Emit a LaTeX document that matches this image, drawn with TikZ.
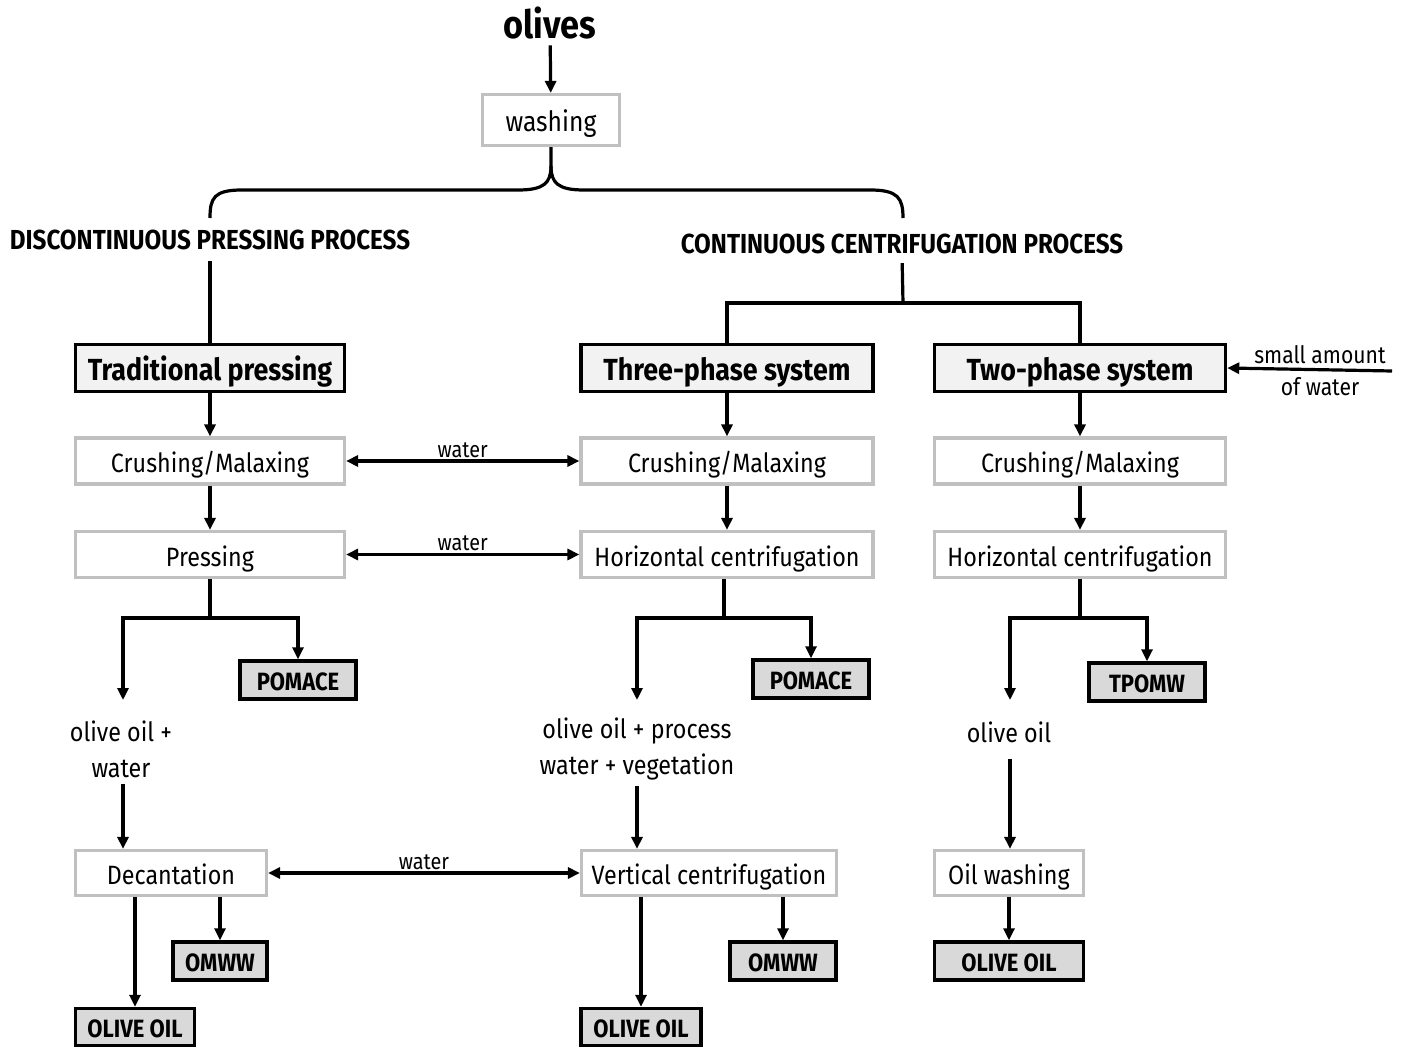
\documentclass[tikz,border=0pt]{standalone}
\usepackage{fontspec}
\setmainfont{Fira Sans}[FakeStretch=0.88]
\usetikzlibrary{arrows.meta}
\definecolor{boxgray}{HTML}{C0C0C0}
\definecolor{headfill}{HTML}{F2F2F2}
\definecolor{outfill}{HTML}{D9D9D9}
\begin{document}
\begin{tikzpicture}[x=1pt,y=-1pt,
  conn/.style={line width=3.2pt, line join=miter},
  arr/.style={conn, -{Triangle[length=12pt,width=11pt]}},
  darr/.style={conn, {Triangle[length=12pt,width=11pt]}-{Triangle[length=12pt,width=11pt]}},
  proc/.style={draw=boxgray, line width=3.2pt, fill=white, inner sep=0pt, text height=25pt, text depth=2pt, font=\fontsize{26.5}{32}\selectfont},
  headbox/.style={draw=black, line width=3.4pt, fill=headfill, inner sep=0pt, minimum height=47pt, text height=27pt, text depth=2pt, font=\bfseries\fontsize{30.5}{32}\selectfont},
  outbox/.style={draw=black, line width=3.4pt, fill=outfill, inner sep=0pt, minimum height=38pt, text height=21pt, text depth=1pt, font=\bfseries\fontsize{25}{28}\selectfont},
  plain/.style={inner sep=2pt, font=\fontsize{26.5}{36}\selectfont, align=center},
  small/.style={inner sep=1pt, font=\fontsize{22.5}{26}\selectfont},
  caps/.style={inner sep=0pt, font=\bfseries\fontsize{27.5}{30}\selectfont}
]
\useasboundingbox (0,0) rectangle (1403,1048);
% top
\node[inner sep=0pt, font=\bfseries\fontsize{39}{42}\selectfont] (olives) at (550,23) {olives};
\node[proc, minimum width=137pt, minimum height=51pt, font=\fontsize{28}{32}\selectfont] (wash) at (551,120) {washing};
\draw[arr, shorten <=6pt] (olives) -- (wash);
% brace
\draw[conn] (wash.south) -- (551,166)
  .. controls (551,183) and (544,190) .. (518,190) -- (242,190)
  .. controls (214,190) and (210,198) .. (210,218);
\draw[conn] (551,166)
  .. controls (551,183) and (558,190) .. (584,190) -- (870,190)
  .. controls (898,190) and (903,198) .. (903,218);
\node[caps] (dpp) at (210,240) {DISCONTINUOUS PRESSING PROCESS};
\node[caps] (ccp) at (902,244) {CONTINUOUS CENTRIFUGATION PROCESS};
% system boxes
\node[headbox, minimum width=269pt] (trad) at (210,368) {Traditional pressing};
\node[headbox, minimum width=292pt] (three) at (727,368) {Three-phase system};
\node[headbox, minimum width=291pt] (two) at (1080,368) {Two-phase system};
\coordinate (cj) at (903,303);
\draw[conn, shorten <=11pt] (dpp.south) -- (trad.north);
\draw[conn, shorten <=9pt] (ccp.south) -- (cj);
\draw[conn] (cj) -| (three.north);
\draw[conn] (cj) -| (two.north);
% small amount of water
\node[small, align=center, font=\fontsize{24}{32}\selectfont] (saw) at (1320,371) {small amount\\of water};
\coordinate (sawin) at (1392,371);
\draw[arr] (sawin) -- (two.east);
% crushing row
\node[proc, minimum width=269pt, minimum height=46pt] (cm1) at (210,461) {Crushing/Malaxing};
\node[proc, minimum width=292pt, minimum height=46pt] (cm2) at (727,461) {Crushing/Malaxing};
\node[proc, minimum width=291pt, minimum height=46pt] (cm3) at (1080,461) {Crushing/Malaxing};
\draw[arr] (trad) -- (cm1);
\draw[arr] (three) -- (cm2);
\draw[arr] (two) -- (cm3);
\draw[darr] (cm1.east) -- node[small, above, yshift=1pt] {water} (cm2.west);
% pressing row
\node[proc, minimum width=269pt, minimum height=46pt] (pr) at (210,554.5) {Pressing};
\node[proc, minimum width=292pt, minimum height=46pt] (hc2) at (727,554.5) {Horizontal centrifugation};
\node[proc, minimum width=291pt, minimum height=46pt] (hc3) at (1080,554.5) {Horizontal centrifugation};
\draw[arr] (cm1) -- (pr);
\draw[arr] (cm2) -- (hc2);
\draw[arr] (cm3) -- (hc3);
\draw[darr] (pr.east) -- node[small, above, yshift=1pt] {water} (hc2.west);
% outputs of pressing row
\node[outbox, minimum width=116pt] (pom1) at (298,680) {POMACE};
\node[outbox, minimum width=116pt] (pom2) at (811,679) {POMACE};
\node[outbox, minimum width=116pt] (tpomw) at (1147,682) {TPOMW};
\node[plain] (ow1) at (121,749) {olive oil +\\water};
\node[plain] (ow2) at (637,749) {olive oil + process\\water + vegetation};
\node[plain] (ow3) at (1009,732) {olive oil};
\coordinate (j1) at (210,618);
\coordinate (j2) at (724,618);
\coordinate (j3) at (1080,618);
\coordinate (e1) at (123,700);
\coordinate (e2) at (637,700);
\coordinate (e3) at (1010,700);
\draw[conn] (pr.south) -- (j1);
\draw[arr] (j1) -| (pom1.north);
\draw[arr] (j1) -| (e1);
\draw[conn] (hc2.south -| j2) -- (j2);
\draw[arr] (j2) -| (pom2.north);
\draw[arr] (j2) -| (e2);
\draw[conn] (hc3.south) -- (j3);
\draw[arr] (j3) -| (tpomw.north);
\draw[arr] (j3) -| (e3);
% bottom process row
\node[proc, minimum width=191pt, minimum height=45pt] (dec) at (171,873) {Decantation};
\node[proc, minimum width=255pt, minimum height=45pt] (vc) at (709,873) {Vertical centrifugation};
\node[proc, minimum width=149pt, minimum height=45pt] (owash) at (1009,873) {Oil washing};
\draw[arr, shorten <=4pt] ([xshift=2pt]ow1.south) -- ([xshift=2pt]ow1.south |- dec.north);
\draw[arr, shorten <=4pt] (ow2.south) -- (ow2.south |- vc.north);
\draw[arr, shorten <=14pt] ([xshift=1pt]ow3.south) -- ([xshift=1pt]ow3.south |- owash.north);
\draw[darr] (dec.east) -- node[small, above, yshift=1pt] {water} (vc.west);
% final outputs
\node[outbox, minimum width=119pt, minimum height=37pt] (oo1) at (135,1027) {OLIVE OIL};
\node[outbox, minimum width=94pt] (omww1) at (220,961) {OMWW};
\node[outbox, minimum width=120pt, minimum height=37pt] (oo2) at (641,1027) {OLIVE OIL};
\node[outbox, minimum width=106pt] (omww2) at (783,961) {OMWW};
\node[outbox, minimum width=149pt] (oo3) at (1009,961) {OLIVE OIL};
\draw[arr] (dec.south -| oo1) -- (oo1.north);
\draw[arr] (dec.south -| omww1) -- (omww1.north);
\draw[arr] (vc.south -| oo2) -- (oo2.north);
\draw[arr] (vc.south -| omww2) -- (omww2.north);
\draw[arr] (owash) -- (oo3);
\end{tikzpicture}
\end{document}
